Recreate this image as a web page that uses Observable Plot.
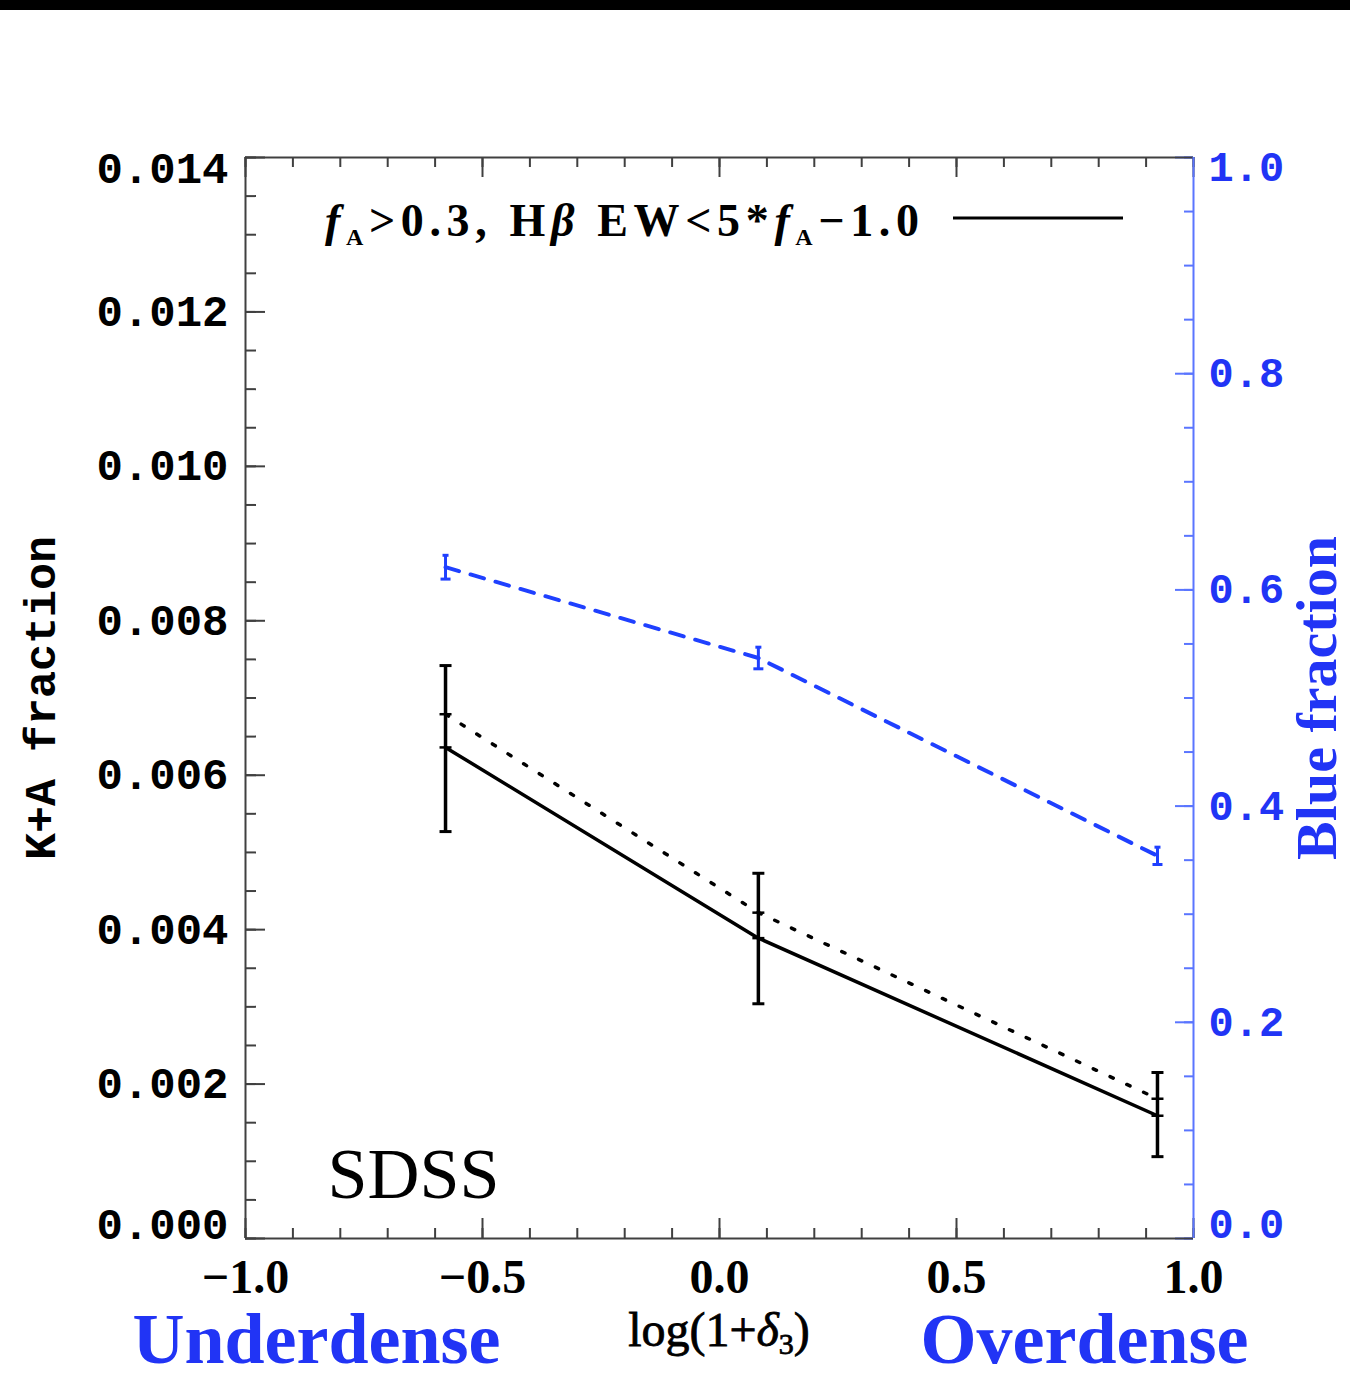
<!DOCTYPE html>
<html>
<head>
<meta charset="utf-8">
<script src="https://cdn.jsdelivr.net/npm/d3@7"></script>
<script src="https://cdn.jsdelivr.net/npm/@observablehq/plot@0.6"></script>
<style>
html, body { margin: 0; padding: 0; background: #fff; }
#topbar { width: 1350px; height: 10px; background: #000; }
#chart svg { display: block; }
</style>
</head>
<body>
<div id="topbar"></div>
<div id="chart"></div>
<script>
// ---------------- data ----------------
const logDensity   = [-0.578, 0.082, 0.924];            // log(1+δ3)
const kaFraction   = [0.00636, 0.00389, 0.00159];        // solid line
const kaLow        = [0.00527, 0.00304, 0.00106];        // error bar low
const kaHigh       = [0.00742, 0.00473, 0.00215];        // error bar high
const kaAltFraction= [0.00679, 0.00422, 0.00181];        // dotted line
const blueFraction = [0.621, 0.537, 0.354];              // dashed blue line (right axis)
const blueErr      = [0.011, 0.010, 0.008];

const xDomain = [-1, 1];
const yDomain = [0, 0.014];
const rightMax = 1.0;                                     // right axis top value
const K = yDomain[1] / rightMax;                          // right->left conversion

const xMajorTicks = [-1.0, -0.5, 0.0, 0.5, 1.0];
const xMinorTicks = d3.range(-10, 11).map(i => i / 10);
const yMajorTicks = [0, 0.002, 0.004, 0.006, 0.008, 0.010, 0.012, 0.014];
const yMinorTicks = d3.range(0, 29).map(i => i * 0.0005);
const rMajorTicks = [0.0, 0.2, 0.4, 0.6, 0.8, 1.0];
const rMinorTicks = d3.range(0, 21).map(i => i * 0.05);

const rows = logDensity.map((x, i) => ({
  x, ka: kaFraction[i], lo: kaLow[i], hi: kaHigh[i], alt: kaAltFraction[i],
  blue: blueFraction[i] * K,
  blo: (blueFraction[i] - blueErr[i]) * K,
  bhi: (blueFraction[i] + blueErr[i]) * K
}));

// ---------------- styles ----------------
const BLUE_TXT = "#2134f5";
const BLUE_LINE = "#1f40ff";
const BLUE_AXIS = "#5a75ff";
const FRAME = "#404040";
const MONO = "Liberation Mono, DejaVu Sans Mono, monospace";
const SERIF = "Liberation Serif, DejaVu Serif, serif";

const W = 1350, H = 1369;
const mL = 245, mR = 157, mT = 147, mB = 141;
const iW = W - mL - mR, iH = H - mT - mB;

// horizontal cap symbol for error bars
const capSymbol = { draw(ctx, size) { const r = Math.sqrt(size / Math.PI); ctx.moveTo(-r, 0); ctx.lineTo(r, 0); } };

// rich text helper mark
function richText(build) {
  return (index, scales, values, dims) => {
    const g = d3.create("svg:g");
    build(g, dims);
    return g.node();
  };
}

const legend = richText((g, d) => {
  const x0 = d.marginLeft + 80, y0 = d.marginTop + 79;
  const t = g.append("text").attr("x", x0).attr("y", y0).attr("text-anchor", "start")
    .attr("font-family", SERIF).attr("font-size", 46).attr("font-weight", "bold")
    .attr("fill", "black").attr("textLength", 594).attr("lengthAdjust", "spacing");
  t.append("tspan").attr("font-style", "italic").text("f");
  t.append("tspan").attr("font-size", 24).attr("dy", 9).text("A");
  t.append("tspan").attr("dy", -9).text(">0.3, H");
  t.append("tspan").attr("font-style", "italic").text("β");
  t.append("tspan").text(" EW<5*");
  t.append("tspan").attr("font-style", "italic").text("f");
  t.append("tspan").attr("font-size", 24).attr("dy", 9).text("A");
  t.append("tspan").attr("dy", -9).text("−1.0");
  g.append("line")
    .attr("x1", d.marginLeft + 708).attr("x2", d.marginLeft + 878)
    .attr("y1", d.marginTop + 61).attr("y2", d.marginTop + 61)
    .attr("stroke", "black").attr("stroke-width", 3);
});

const xLabel = richText((g, d) => {
  const cx = d.marginLeft + iW / 2, y = H - d.marginBottom + 108;
  const t = g.append("text").attr("x", cx).attr("y", y).attr("text-anchor", "middle")
    .attr("font-family", SERIF).attr("font-size", 48).attr("fill", "black")
    .attr("stroke", "black").attr("stroke-width", 0.8);
  t.append("tspan").text("log(1+");
  t.append("tspan").attr("font-style", "italic").text("δ");
  t.append("tspan").attr("font-size", 30).attr("dy", 8).text("3");
  t.append("tspan").attr("dy", -8).text(")");
});

const chart = Plot.plot({
  width: W, height: H,
  marginLeft: mL, marginRight: mR, marginTop: mT, marginBottom: mB,
  style: { background: "white" },
  x: { domain: xDomain },
  y: { domain: yDomain },
  marks: [
    // minor/major ticks (inward)
    Plot.tickY(yMinorTicks, { y: d => d, stroke: FRAME, strokeWidth: 2, insetRight: iW - 11 }),
    Plot.tickY(yMajorTicks, { y: d => d, stroke: FRAME, strokeWidth: 2, insetRight: iW - 20 }),
    Plot.tickY(rMinorTicks.map(v => v * K), { y: d => d, stroke: BLUE_AXIS, strokeWidth: 2, insetLeft: iW - 9 }),
    Plot.tickY(rMajorTicks.map(v => v * K), { y: d => d, stroke: BLUE_AXIS, strokeWidth: 2, insetLeft: iW - 18 }),
    Plot.tickX(xMinorTicks, { x: d => d, stroke: FRAME, strokeWidth: 2, insetTop: iH - 10 }),
    Plot.tickX(xMajorTicks, { x: d => d, stroke: FRAME, strokeWidth: 2, insetTop: iH - 20 }),
    Plot.tickX(xMinorTicks, { x: d => d, stroke: FRAME, strokeWidth: 2, insetBottom: iH - 10 }),
    Plot.tickX(xMajorTicks, { x: d => d, stroke: FRAME, strokeWidth: 2, insetBottom: iH - 20 }),
    // frame
    Plot.ruleY(yDomain, { stroke: FRAME, strokeWidth: 2 }),
    Plot.ruleX([xDomain[0]], { stroke: FRAME, strokeWidth: 2 }),
    Plot.ruleX([xDomain[1]], { stroke: BLUE_AXIS, strokeWidth: 2 }),
    // left axis labels
    Plot.axisY(yMajorTicks.slice(1, -1), { anchor: "left", tickSize: 0, tickPadding: 17, tickFormat: d3.format(".3f"),
      fontSize: 44, fontFamily: MONO, fontWeight: "bold", color: "black", label: null }),
    Plot.axisY([yMajorTicks[yMajorTicks.length - 1]], { anchor: "left", tickSize: 0, tickPadding: 17, tickFormat: d3.format(".3f"),
      fontSize: 44, fontFamily: MONO, fontWeight: "bold", color: "black", label: null, dy: 11 }),
    Plot.axisY([yMajorTicks[0]], { anchor: "left", tickSize: 0, tickPadding: 17, tickFormat: d3.format(".3f"),
      fontSize: 44, fontFamily: MONO, fontWeight: "bold", color: "black", label: null, dy: -14 }),
    // right axis labels
    Plot.axisY(rMajorTicks.slice(1, -1).map(v => v * K), { anchor: "right", tickSize: 0, tickPadding: 15,
      tickFormat: d => (d / K).toFixed(1), fontSize: 42, fontFamily: MONO, fontWeight: "bold", color: BLUE_TXT, label: null }),
    Plot.axisY([rMajorTicks[rMajorTicks.length - 1] * K], { anchor: "right", tickSize: 0, tickPadding: 15,
      tickFormat: d => (d / K).toFixed(1), fontSize: 42, fontFamily: MONO, fontWeight: "bold", color: BLUE_TXT, label: null, dy: 10 }),
    Plot.axisY([rMajorTicks[0] * K], { anchor: "right", tickSize: 0, tickPadding: 15,
      tickFormat: d => (d / K).toFixed(1), fontSize: 42, fontFamily: MONO, fontWeight: "bold", color: BLUE_TXT, label: null, dy: -14 }),
    // x axis labels
    Plot.axisX(xMajorTicks, { anchor: "bottom", tickSize: 0, tickPadding: 20, tickFormat: d3.format(".1f"),
      fontSize: 48, fontFamily: SERIF, fontWeight: "bold", color: "black", label: null }),
    // axis titles
    Plot.text(["K+A fraction"], { frameAnchor: "left", dx: -205, rotate: -90, textAnchor: "middle", lineAnchor: "middle",
      fontSize: 45, fontFamily: MONO, fontWeight: "bold", fill: "black" }),
    Plot.text(["Blue fraction"], { frameAnchor: "right", dx: 124, rotate: -90, textAnchor: "middle", lineAnchor: "middle",
      fontSize: 58, fontFamily: SERIF, fontWeight: "bold", fill: BLUE_TXT }),
    Plot.text(["Underdense"], { frameAnchor: "bottom-left", dx: 71, dy: 101, textAnchor: "middle", lineAnchor: "middle",
      fontSize: 72, fontFamily: SERIF, fontWeight: "bold", fill: BLUE_TXT }),
    Plot.text(["Overdense"], { frameAnchor: "bottom-right", dx: -109, dy: 101, textAnchor: "middle", lineAnchor: "middle",
      fontSize: 72, fontFamily: SERIF, fontWeight: "bold", fill: BLUE_TXT }),
    Plot.text(["SDSS"], { frameAnchor: "bottom-left", dx: 82, dy: -41, textAnchor: "start", lineAnchor: "bottom",
      fontSize: 72, fontFamily: SERIF, fill: "black" }),
    xLabel,
    legend,
    // data
    Plot.line(rows, { x: "x", y: "blue", stroke: BLUE_LINE, strokeWidth: 4, strokeDasharray: "14,12" }),
    Plot.ruleX(rows, { x: "x", y1: "blo", y2: "bhi", stroke: BLUE_LINE, strokeWidth: 3 }),
    Plot.dot(rows, { x: "x", y: "blo", symbol: capSymbol, r: 5, stroke: BLUE_LINE, strokeWidth: 3, fill: "none" }),
    Plot.dot(rows, { x: "x", y: "bhi", symbol: capSymbol, r: 3, stroke: BLUE_LINE, strokeWidth: 3, fill: "none" }),
    Plot.line(rows, { x: "x", y: "alt", stroke: "black", strokeWidth: 3.5, strokeDasharray: "3.5,15" }),
    Plot.line(rows, { x: "x", y: "ka", stroke: "black", strokeWidth: 3.5 }),
    Plot.ruleX(rows, { x: "x", y1: "lo", y2: "hi", stroke: "black", strokeWidth: 3.5 }),
    Plot.dot(rows, { x: "x", y: "lo", symbol: capSymbol, r: 6, stroke: "black", strokeWidth: 3, fill: "none" }),
    Plot.dot(rows, { x: "x", y: "hi", symbol: capSymbol, r: 6, stroke: "black", strokeWidth: 3, fill: "none" }),
    Plot.dot(rows, { x: "x", y: "alt", symbol: capSymbol, r: 6, stroke: "black", strokeWidth: 2.5, fill: "none" }),
    Plot.dot(rows, { x: "x", y: "ka", symbol: capSymbol, r: 6, stroke: "black", strokeWidth: 2.5, fill: "none" })
  ]
});
document.getElementById("chart").appendChild(chart);
</script>
</body>
</html>
